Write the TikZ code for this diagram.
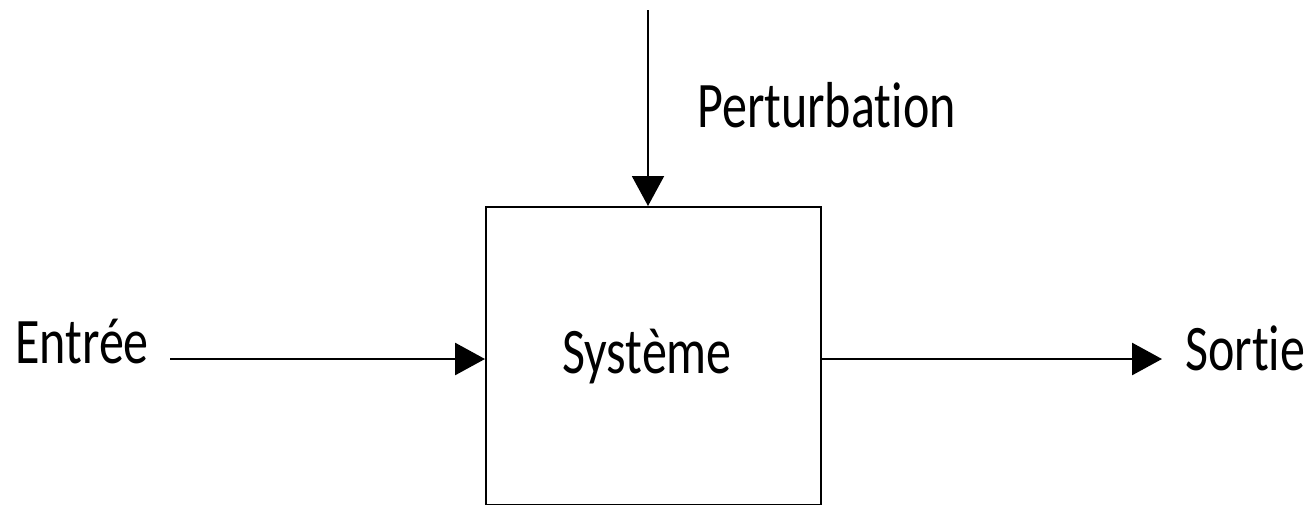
\documentclass[tikz,border=0pt]{standalone}
\usepackage{fontspec}
\setmainfont[FakeStretch=0.77,RawFeature=-liga]{Carlito}
\usetikzlibrary{arrows.meta}
\begin{document}
\begin{tikzpicture}[x=1pt,y=-1pt,
  lbl/.style={inner sep=0pt,anchor=base west,font=\fontsize{65}{78}\selectfont},
  conn/.style={line width=2.8pt,-{Triangle[length=30pt,width=32pt]}},
  blk/.style={draw,line width=2pt,minimum width=335pt,minimum height=298pt,inner sep=0pt}]
\useasboundingbox (0,0) rectangle (1314,504);
\node[blk] (sys) at (653.5,356) {};
\node[lbl,anchor=base] (systxt) at (647,373) {Système};
\node[lbl] (entree) at (15,363) {Entrée};
\node[lbl] (sortie) at (1185,370) {Sortie};
\node[lbl] (pert) at (697,127) {Perturbation};
\coordinate (ein) at (170,359);
\coordinate (sout) at (1162,359);
\coordinate (ptop) at (648,10);
\draw[conn] (ein) -- (ein -| sys.west);
\draw[conn] (ein -| sys.east) -- (sout);
\draw[conn,line width=2pt] (ptop) -- (ptop |- sys.north);
\end{tikzpicture}
\end{document}
